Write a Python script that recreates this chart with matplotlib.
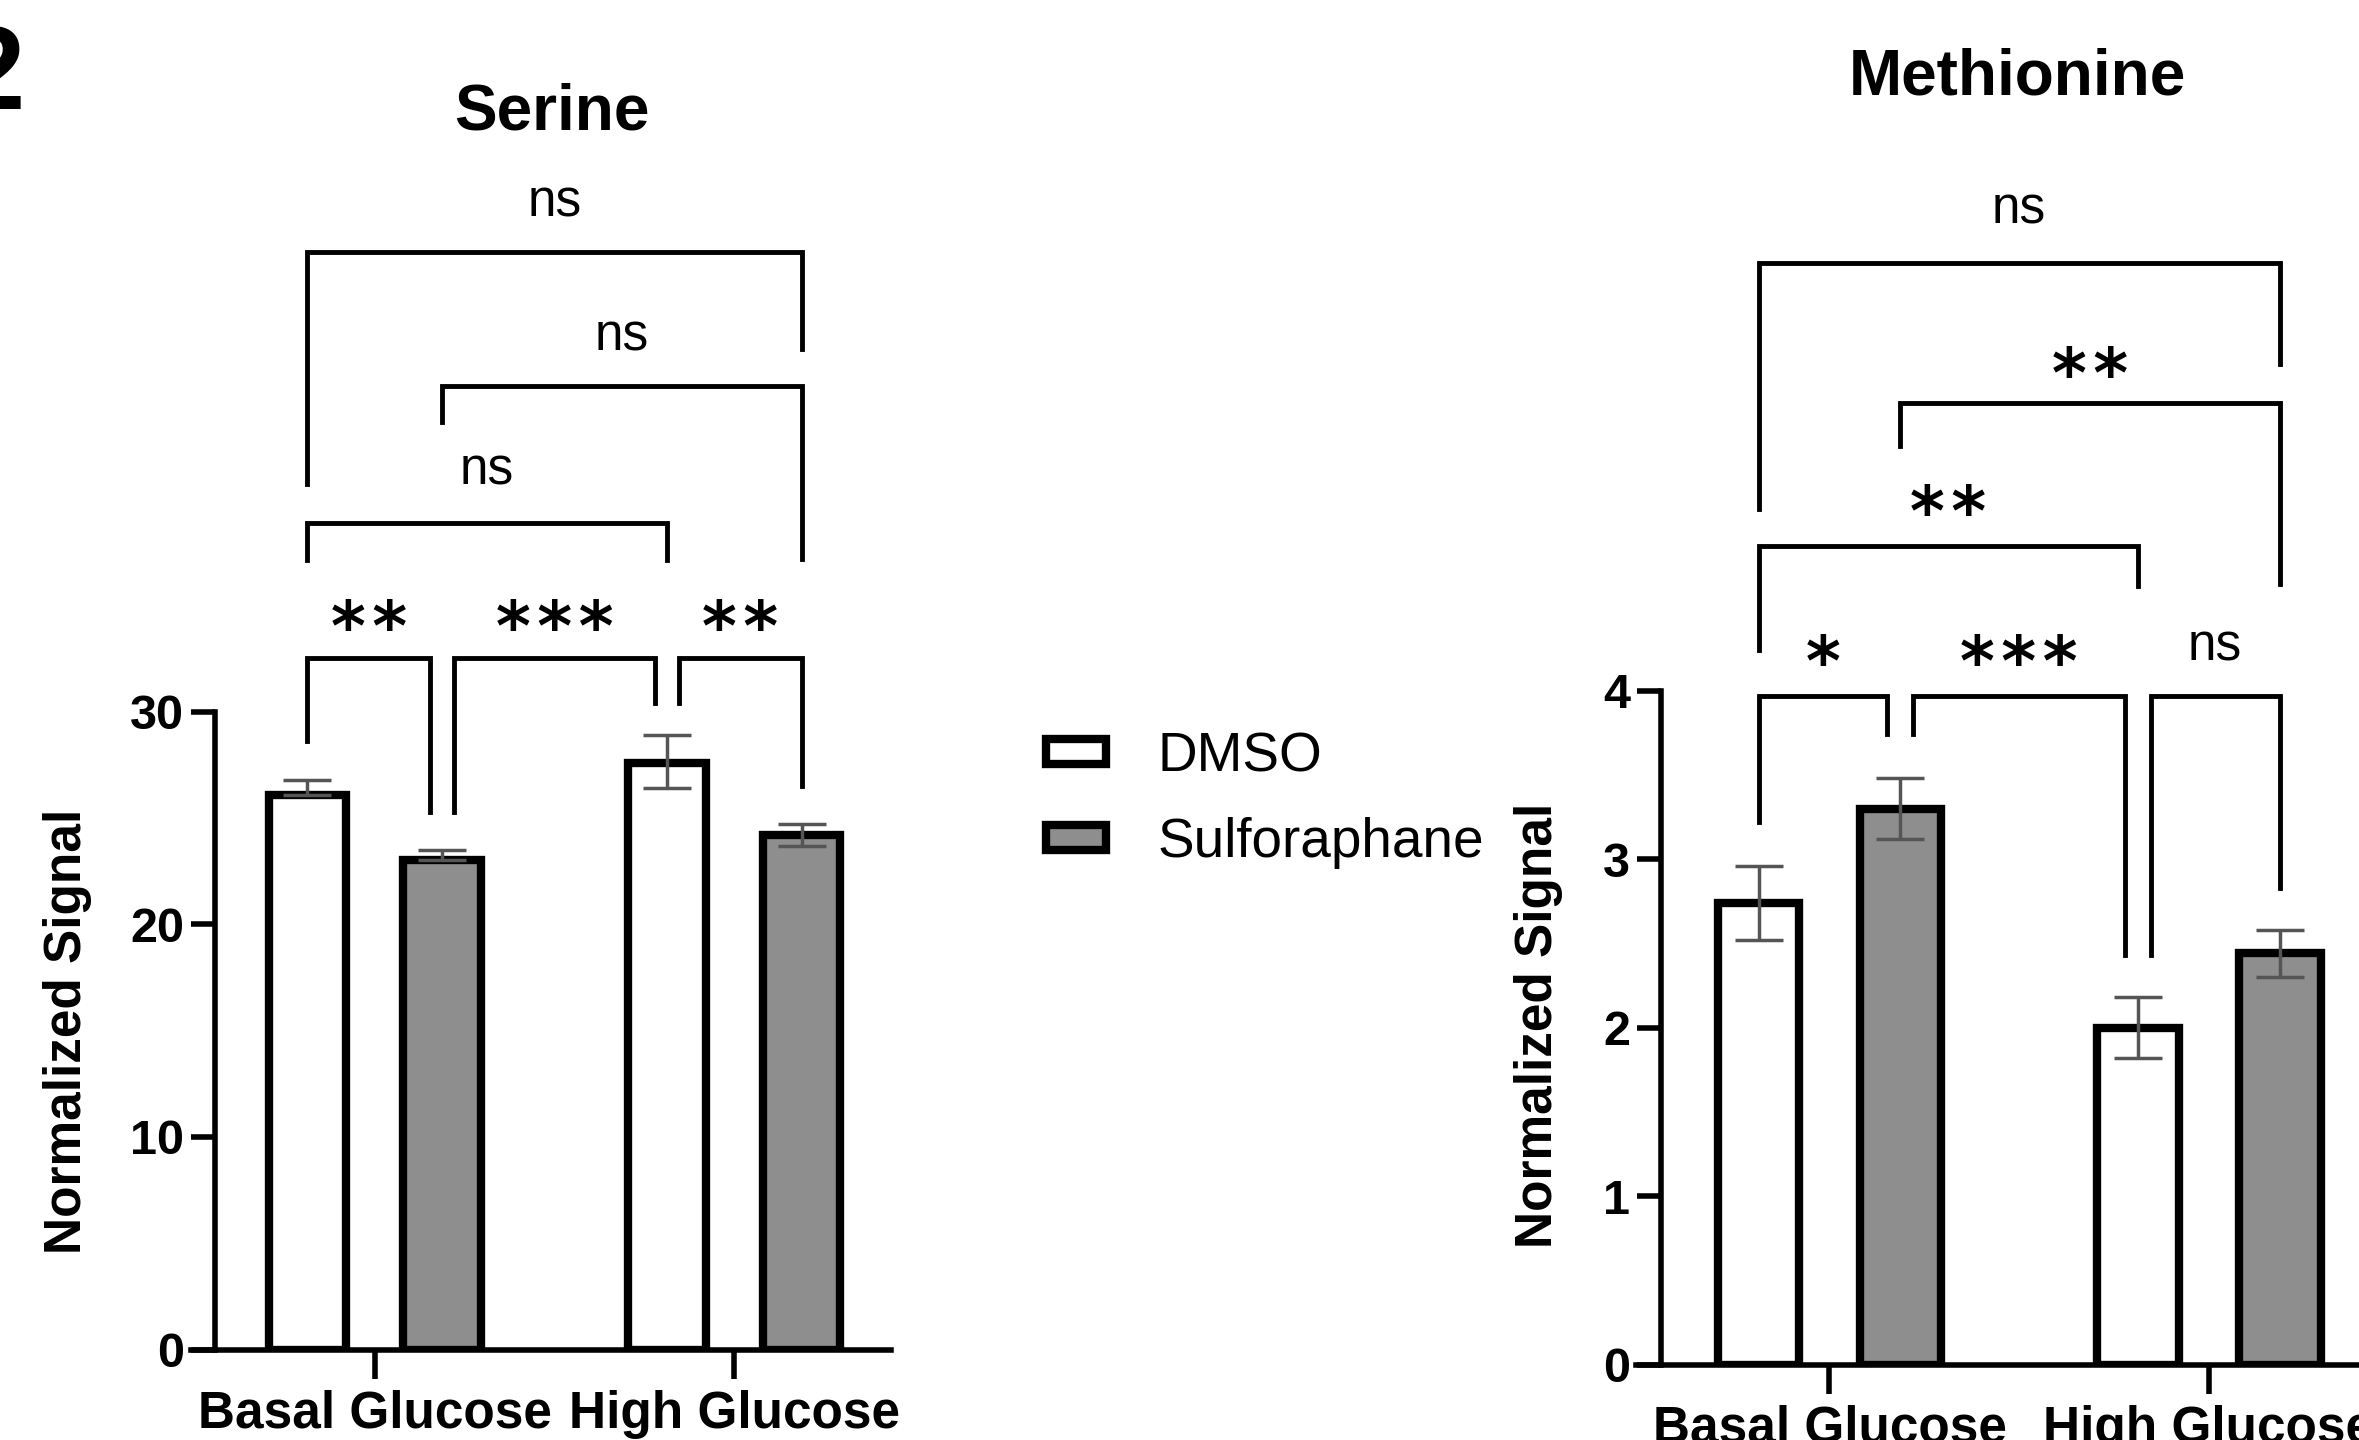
import matplotlib
matplotlib.use('Agg')
import matplotlib.pyplot as plt
import matplotlib.transforms as mtransforms
import numpy as np

plt.rcParams['font.family'] = ['Liberation Sans', 'DejaVu Sans']

###############################################################################################
# Data

groups = ['Basal Glucose', 'High Glucose']
treatments = ['DMSO', 'Sulforaphane']

# Serine
ser_dmso = [26.1, 27.6]
ser_sulf = [23.0, 24.2]
ser_dmso_err_lo = [0.0, 1.2]
ser_dmso_err_hi = [0.7, 1.3]
ser_sulf_err_lo = [0.0, 0.5]
ser_sulf_err_hi = [0.5, 0.5]

# Methionine
met_dmso = [2.74, 2.00]
met_sulf = [3.30, 2.44]
met_dmso_err = [0.22, 0.18]
met_sulf_err = [0.18, 0.14]

# Comparisons (bar index: 0 DMSO basal, 1 SFN basal, 2 DMSO high, 3 SFN high)
pairs = [(0, 1), (1, 2), (2, 3), (0, 2), (1, 3), (0, 3)]
ser_sig = ['**', '***', '**', 'ns', 'ns', 'ns']
met_sig = ['*', '***', 'ns', '**', '**', 'ns']

###############################################################################################
# Bracket layout: (top, left leg end, right leg end, label y, left shift, right shift)

ser_layout = [
    (32.5, 28.6, 25.3, 34.7, 0, -1),
    (32.5, 25.3, 30.4, 34.7, 1, -1),
    (32.5, 30.4, 26.5, 34.7, 1, 0),
    (38.85, 37.15, 37.15, 41.3, 0, 0),
    (45.3, 43.6, 37.2, 47.6, 0, 0),
    (51.6, 40.7, 47.05, 53.9, 0, 0),
]

met_layout = [
    (3.97, 3.22, 3.74, 4.26, 0, -1),
    (3.97, 3.74, 2.43, 4.26, 1, -1),
    (3.97, 2.43, 2.83, 4.26, 1, 0),
    (4.86, 4.24, 4.62, 5.15, 0, 0),
    (5.71, 5.45, 4.63, 5.97, 0, 0),
    (6.54, 5.08, 5.94, 6.85, 0, 0),
]

off = 0.187
width = 0.215
star_fs = 48


def sig_text(ax, x, y, s):
    if '*' in s:
        # asterisk sits high in the em box, drop it so y is its centre
        tr = mtransforms.offset_copy(ax.transData, fig=ax.figure, y=-0.57 * star_fs, units='points')
        ax.text(x, y, '\u200a'.join(s), transform=tr, ha='center', va='baseline', fontsize=star_fs,
                family='DejaVu Sans', weight='bold')
    else:
        ax.text(x, y, s, ha='center', va='center', fontsize=37)


def draw_panel(ax, dmso, sulf, dmso_err, sulf_err, ymax, yticks, sig, layout):
    x = np.arange(len(groups))
    b1 = ax.bar(x - off, dmso, width, color='white', edgecolor='black', linewidth=6, zorder=2)
    b2 = ax.bar(x + off, sulf, width, color='#8e8e8e', edgecolor='black', linewidth=6, zorder=2)
    ax.errorbar(x - off, dmso, yerr=dmso_err, fmt='none', ecolor='#555555', elinewidth=2.5,
                capsize=17, capthick=2.5, zorder=3)
    ax.errorbar(x + off, sulf, yerr=sulf_err, fmt='none', ecolor='#555555', elinewidth=2.5,
                capsize=17, capthick=2.5, zorder=3)

    # Axes
    ax.set_xlim(-0.51, 1.435)
    ax.set_ylim(0, ymax)
    ax.spines['top'].set_visible(False)
    ax.spines['right'].set_visible(False)
    ax.spines['left'].set_position(('data', -0.445))
    ax.spines['left'].set_bounds(0, ymax)
    ax.spines['left'].set_linewidth(4)
    ax.spines['bottom'].set_linewidth(4)
    ax.set_yticks(yticks)
    ax.set_xticks(x)
    ax.set_xticklabels(groups, fontsize=37, weight='bold')
    ax.tick_params(axis='y', length=17, width=4, labelsize=35, pad=5)
    ax.tick_params(axis='x', length=21, width=4, pad=8)
    for t in ax.get_yticklabels():
        t.set_fontweight('bold')

    # Significance brackets
    centers = [x[0] - off, x[0] + off, x[1] - off, x[1] + off]
    shift = 0.034
    for (a, b), s, (top, ea, eb, ly, sa, sb) in zip(pairs, sig, layout):
        xa = centers[a] + sa * shift
        xb = centers[b] + sb * shift
        ax.plot([xa, xa, xb, xb], [ea, top, top, eb], color='black', linewidth=3.5,
                clip_on=False, solid_joinstyle='miter', zorder=4)
        sig_text(ax, (xa + xb) / 2, ly, s)

    return b1, b2


###############################################################################################
# Figure

fig = plt.figure(figsize=(23.59, 14.4), dpi=100)

ax1 = fig.add_axes([0.0811, 0.0628, 0.2965, 0.443])
ax2 = fig.add_axes([0.6935, 0.0524, 0.3128, 0.468])

ser_err = [[ser_dmso_err_lo, ser_dmso_err_hi], [ser_sulf_err_lo, ser_sulf_err_hi]]
b1, b2 = draw_panel(ax1, ser_dmso, ser_sulf, ser_err[0], ser_err[1], 30, [0, 10, 20, 30],
                    ser_sig, ser_layout)
draw_panel(ax2, met_dmso, met_sulf, met_dmso_err, met_sulf_err, 4, [0, 1, 2, 3, 4],
           met_sig, met_layout)

# Titles and axis labels
fig.text(0.234, 0.922, 'Serine', ha='center', va='center', fontsize=46, weight='bold')
fig.text(0.855, 0.946, 'Methionine', ha='center', va='center', fontsize=46, weight='bold')
fig.text(0.0287, 0.284, 'Normalized Signal', ha='center', va='center', rotation=90,
         fontsize=37, weight='bold')
fig.text(0.652, 0.288, 'Normalized Signal', ha='center', va='center', rotation=90,
         fontsize=37, weight='bold')

# Panel number, cut at the left edge
fig.text(0.0109, 0.984, '2', ha='right', va='top', fontsize=86, weight='bold')

# Legend
fig.legend([b1, b2], treatments, loc='center left', bbox_to_anchor=(0.4432, 0.4443),
           frameon=False, fontsize=39.5, handlelength=1.1, handleheight=0.32,
           handletextpad=0.95, labelspacing=0.62, borderpad=0, borderaxespad=0)

fig.savefig('out.png', dpi=100)
